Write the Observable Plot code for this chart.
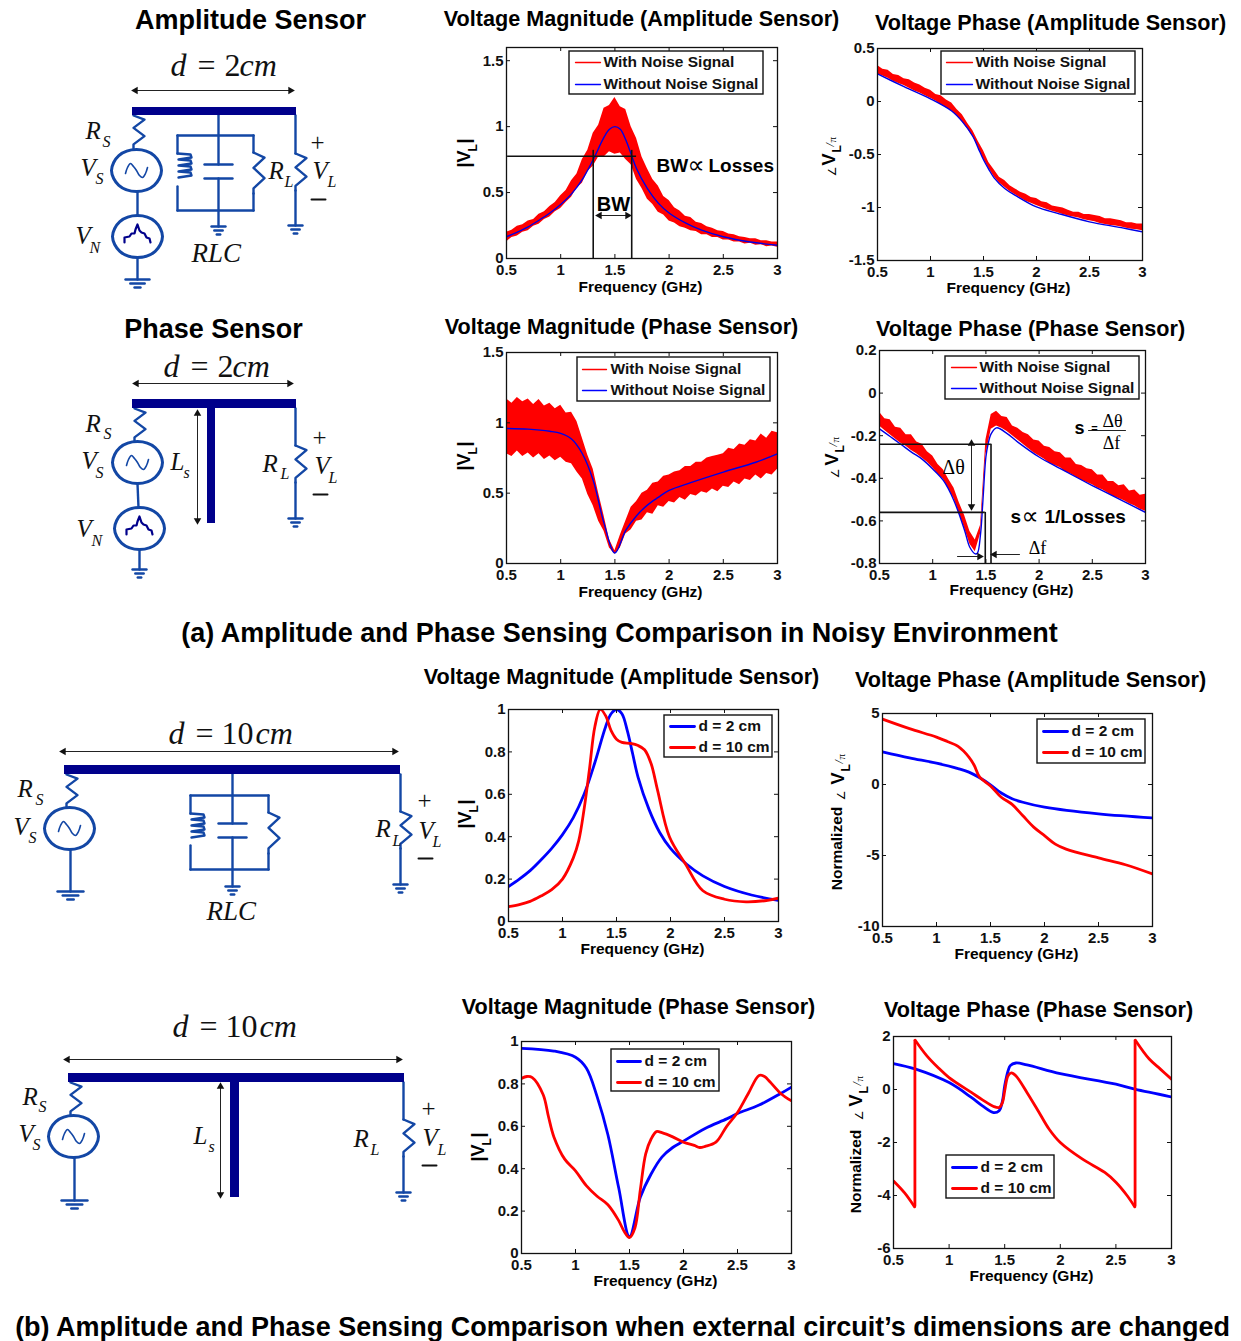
<!DOCTYPE html>
<html><head><meta charset="utf-8">
<script src="https://cdn.jsdelivr.net/npm/d3@7"></script>
<script src="https://cdn.jsdelivr.net/npm/@observablehq/plot@0.6"></script>
<style>html,body{margin:0;padding:0;background:#fff}#root{position:relative;width:1241px;height:1341px;overflow:hidden}#root svg{position:absolute;max-width:none}</style>
</head><body><div id="root"></div>
<script>
const noiseF=[.5,.55,.6,.65,.7,.75,.8,.85,.9,.95,1,1.05,1.1,1.15,1.2,1.25,1.3,1.35,1.4,1.45,1.5,1.55,1.6,1.65,1.7,1.75,1.8,1.85,1.9,1.95,2,2.05,2.1,2.15,2.2,2.25,2.3,2.35,2.4,2.45,2.5,2.55,2.6,2.65,2.7,2.75,2.8,2.85,2.9,2.95,3];
const ampMagHi=[.2,.215,.245,.255,.285,.295,.335,.355,.395,.425,.475,.515,.59,.64,.75,.82,.95,1.01,1.14,1.16,1.22,1.15,1.13,1.0,.91,.77,.68,.6,.55,.47,.44,.385,.36,.32,.31,.275,.265,.24,.23,.21,.205,.185,.18,.165,.16,.15,.15,.135,.135,.125,.125];
const ampMagLo=[.125,.16,.17,.2,.21,.245,.26,.295,.315,.355,.38,.425,.465,.535,.57,.66,.7,.77,.77,.81,.79,.8,.75,.71,.6,.53,.45,.41,.35,.33,.285,.27,.24,.23,.21,.205,.18,.18,.16,.16,.14,.14,.125,.125,.11,.115,.1,.105,.09,.095,.085];
const ampPhaHi=[.34,.305,.295,.255,.245,.215,.205,.175,.155,.125,.105,.065,.055,.015,-.015,-.075,-.125,-.205,-.275,-.375,-.465,-.575,-.645,-.715,-.745,-.795,-.825,-.855,-.875,-.905,-.915,-.945,-.955,-.985,-.995,-1.005,-1.025,-1.045,-1.045,-1.065,-1.065,-1.075,-1.085,-1.105,-1.105,-1.115,-1.125,-1.145,-1.145,-1.155,-1.155];
const ampPhaLo=[.26,.24,.22,.19,.17,.15,.125,.1,.08,.055,.03,.005,-.03,-.06,-.09,-.14,-.19,-.26,-.33,-.43,-.54,-.63,-.71,-.77,-.81,-.85,-.88,-.91,-.94,-.96,-.98,-1,-1.02,-1.035,-1.05,-1.065,-1.08,-1.09,-1.1,-1.115,-1.125,-1.135,-1.15,-1.16,-1.17,-1.175,-1.185,-1.195,-1.205,-1.21,-1.22];
const phaMagHi=[1.17,1.14,1.18,1.15,1.17,1.13,1.165,1.12,1.14,1.10,1.125,1.07,1.075,1.01,.89,.77,.67,.50,.34,.17,.09,.2,.3,.4,.44,.5,.52,.57,.58,.62,.63,.65,.66,.69,.69,.72,.72,.75,.76,.77,.78,.82,.81,.85,.84,.88,.87,.92,.89,.94,.93];
const phaMagLo=[.78,.76,.80,.76,.785,.75,.78,.74,.765,.73,.755,.72,.71,.65,.6,.49,.41,.30,.23,.11,.065,.11,.21,.24,.3,.31,.36,.35,.41,.40,.44,.43,.47,.45,.49,.48,.51,.5,.53,.51,.55,.54,.58,.56,.6,.59,.63,.6,.64,.63,.67];
const phaPhaHi=[-.09,-.12,-.125,-.16,-.165,-.195,-.195,-.23,-.24,-.275,-.295,-.335,-.36,-.405,-.445,-.515,-.575,-.65,-.69,-.62,-.22,-.1,-.085,-.11,-.115,-.155,-.165,-.185,-.195,-.22,-.225,-.25,-.255,-.275,-.28,-.305,-.305,-.335,-.34,-.355,-.36,-.385,-.385,-.415,-.415,-.435,-.43,-.46,-.455,-.48,-.475];
const phaPhaLo=[-.155,-.175,-.195,-.215,-.235,-.25,-.27,-.285,-.305,-.325,-.35,-.38,-.405,-.45,-.495,-.565,-.635,-.71,-.745,-.66,-.29,-.17,-.155,-.165,-.18,-.2,-.22,-.24,-.26,-.28,-.295,-.31,-.33,-.34,-.35,-.37,-.38,-.395,-.41,-.42,-.43,-.445,-.455,-.47,-.485,-.495,-.505,-.52,-.53,-.545,-.555];

const magAF=[.5,.6,.7,.8,.9,1,1.1,1.2,1.3,1.4,1.45,1.5,1.55,1.6,1.65,1.7,1.8,1.9,2,2.15,2.3,2.5,2.75,3];
const magA=[.165,.2,.24,.29,.345,.41,.49,.6,.75,.92,.98,1,.98,.9,.79,.68,.53,.42,.345,.27,.215,.165,.125,.1];
const ampPha2F=[.5,.75,1,1.2,1.3,1.4,1.45,1.5,1.55,1.6,1.7,1.8,2,2.2,2.5,2.8,3];
const ampPha2=[.26,.14,.025,-.09,-.19,-.33,-.44,-.55,-.64,-.72,-.82,-.885,-.995,-1.055,-1.135,-1.19,-1.23];
const phaMag2F=[.5,.7,.9,1,1.1,1.2,1.3,1.4,1.5,1.6,1.7,1.8,1.9,2,2.2,2.5,2.8,3];
const phaMag2=[.96,.955,.94,.925,.885,.78,.59,.285,.075,.235,.34,.415,.47,.52,.575,.65,.72,.78];
const phaPha2F=[.5,.6,.7,.8,.9,1,1.1,1.2,1.3,1.35,1.4,1.42,1.45,1.47,1.5,1.52,1.55,1.6,1.7,1.8,2,2.2,2.5,2.8,3];
const phaPha2=[-.168,-.204,-.24,-.277,-.31,-.356,-.41,-.505,-.645,-.725,-.755,-.752,-.66,-.52,-.3,-.24,-.19,-.163,-.19,-.23,-.3,-.355,-.434,-.51,-.56];

const p5RedF=[.5,.6,.7,.8,.9,1,1.1,1.15,1.2,1.25,1.3,1.35,1.4,1.45,1.5,1.55,1.63,1.7,1.76,1.82,1.88,1.99,2.14,2.3,2.5,2.7,2.9,3];
const p5Red=[.07,.08,.095,.12,.15,.2,.3,.38,.53,.72,.92,1,.97,.9,.86,.845,.84,.83,.81,.745,.62,.4,.27,.145,.105,.093,.1,.11];
const p6F=[.5,.75,1,1.2,1.3,1.4,1.5,1.6,1.7,1.8,2,2.5,3];
const p6Blue=[2.3,1.88,1.5,1.12,.87,.47,-.02,-.6,-1,-1.25,-1.6,-2.07,-2.35];
const p6RedF=[.5,.75,1,1.1,1.2,1.3,1.35,1.4,1.5,1.6,1.7,1.8,1.9,2,2.1,2.2,2.5,2.75,3];
const p6Red=[4.6,3.93,3.34,3.03,2.68,1.93,1.34,.52,-.1,-.9,-1.4,-2.2,-3,-3.6,-4.2,-4.55,-5.17,-5.65,-6.3];
const p7F=[.5,.8,1,1.1,1.2,1.3,1.4,1.5,1.6,1.7,1.8,1.9,2,2.2,2.4,2.5,2.7,2.9,3];
const p7Blue=[.968,.955,.926,.875,.74,.56,.31,.08,.265,.375,.455,.5,.53,.59,.635,.66,.7,.755,.785];
const p7RedF=[.5,.55,.6,.7,.75,.8,.9,1,1.1,1.2,1.3,1.4,1.45,1.5,1.55,1.6,1.65,1.7,1.75,1.8,1.9,2,2.1,2.15,2.2,2.3,2.4,2.5,2.6,2.7,2.75,2.8,2.9,3];
const p7Red=[.826,.835,.83,.75,.645,.55,.445,.39,.32,.27,.23,.155,.105,.075,.12,.3,.47,.54,.575,.57,.55,.525,.51,.5,.505,.525,.6,.665,.755,.84,.835,.81,.755,.72];
const p8F=[.5,.7,1,1.2,1.3,1.4,1.45,1.48,1.5,1.53,1.55,1.6,1.7,2,2.5,2.67,3];
const p8Blue=[.98,.77,.26,-.3,-.62,-.87,-.8,-.43,.14,.7,.9,1,.93,.6,.2,.01,-.28];
const p8RedF=[.5,.6,.69,.695,.8,.9,1,1.2,1.3,1.4,1.45,1.48,1.5,1.53,1.56,1.6,1.7,1.8,1.9,2,2.2,2.4,2.5,2.6,2.67,2.675,2.8,2.9,3];
const p8Red=[-3.45,-3.9,-4.43,1.86,1.27,.83,.45,-.11,-.39,-.64,-.68,-.49,-.05,.52,.63,.52,-.11,-.8,-1.5,-2,-2.63,-3.13,-3.5,-4,-4.43,1.86,1.15,.77,.39];
const p8Jumps=[.6925,2.6725];

const xTicks=[.5,1,1.5,2,2.5,3];
const legendNoise=["With Noise Signal","Without Noise Signal"];
const legendD=["d = 2 cm","d = 10 cm"];
const sans="Liberation Sans", serif="Liberation Serif";
const root=document.getElementById("root");
const tbl=(f,v)=>f.map((x,i)=>({f:x,v:v[i]}));
const band=(hi,lo)=>noiseF.map((x,i)=>({f:x,hi:hi[i],lo:lo[i]}));

function chart(fx0,fx1,fy0,fy1,yd,yt,marks){
  const ml=50,mr=20,mt=10,mb=30,w=fx1-fx0,h=fy1-fy0;
  const node=Plot.plot({width:w+ml+mr,height:h+mt+mb,marginLeft:ml,marginRight:mr,marginTop:mt,marginBottom:mb,
    style:{background:"transparent"},
    x:{domain:[.5,3]},y:{domain:yd},
    marks:[...marks,
      Plot.frame({stroke:"#111",strokeWidth:1.3}),
      Plot.axisX({anchor:"bottom",ticks:xTicks,tickSize:-4,tickPadding:9.5,tickFormat:String,label:null,fontSize:15,fontWeight:"bold",fontFamily:sans,fill:"#111",stroke:"#111"}),
      Plot.ruleX(xTicks,{y1:yd[1],y2:yd[1]-(yd[1]-yd[0])*4/h,stroke:"#111"}),
      Plot.axisY({anchor:"left",ticks:yt,tickSize:-4,tickPadding:7,tickFormat:String,label:null,fontSize:15,fontWeight:"bold",fontFamily:sans,fill:"#111",stroke:"#111"}),
      Plot.ruleY(yt,{x1:3,x2:3-2.5*4/w,stroke:"#111"})
    ]});
  node.style.left=(fx0-ml)+"px";node.style.top=(fy0-mt)+"px";
  root.appendChild(node);
}
const noisy=(hi,lo,f,v)=>[
  Plot.areaY(band(hi,lo),{x:"f",y1:"lo",y2:"hi",fill:"#ff0000",clip:true}),
  Plot.line(tbl(f,v),{x:"f",y:"v",stroke:"#0000e6",strokeWidth:1.4,curve:"catmull-rom",clip:true})];
const clean=(f1,v1,f2,v2,z)=>[
  Plot.line(tbl(f1,v1),{x:"f",y:"v",stroke:"#0000ff",strokeWidth:2.8,curve:"catmull-rom",clip:true}),
  Plot.line(tbl(f2,v2),{x:"f",y:"v",z,stroke:"#ff0000",strokeWidth:2.8,curve:"catmull-rom",clip:true})];
const bk="#111";
chart(506,777,47,258,[0,1.6],[0,.5,1,1.5],[...noisy(ampMagHi,ampMagLo,magAF,magA),
  Plot.ruleY([.775],{x1:.51,x2:1.7,stroke:bk,strokeWidth:1.6}),
  Plot.ruleX([1.3,1.655],{y1:0,y2:.82,stroke:bk,strokeWidth:1.6})]);
chart(877,1142,48,260,[-1.5,.5],[-1.5,-1,-.5,0,.5],noisy(ampPhaHi,ampPhaLo,ampPha2F,ampPha2));
chart(506,777,352,563,[0,1.5],[0,.5,1,1.5],noisy(phaMagHi,phaMagLo,phaMag2F,phaMag2));
chart(879,1145,350,563,[-.8,.2],[-.8,-.6,-.4,-.2,0,.2],[...noisy(phaPhaHi,phaPhaLo,phaPha2F,phaPha2),
  Plot.ruleY([-.24],{x1:.5,x2:1.55,stroke:bk,strokeWidth:1.6}),
  Plot.ruleY([-.56],{x1:.5,x2:1.494,stroke:bk,strokeWidth:1.6}),
  Plot.ruleX([1.494],{y1:-.8,y2:-.56,stroke:bk,strokeWidth:1.6}),
  Plot.ruleX([1.548],{y1:-.8,y2:-.24,stroke:bk,strokeWidth:1.6})]);
chart(508,778,709,921,[0,1],[0,.2,.4,.6,.8,1],clean(magAF,magA,p5RedF,p5Red));
chart(882,1152,713,926,[-10,5],[-10,-5,0,5],clean(p6F,p6Blue,p6RedF,p6Red));
chart(521,791,1041,1253,[0,1],[0,.2,.4,.6,.8,1],clean(p7F,p7Blue,p7RedF,p7Red));
chart(893,1171,1036,1248,[-6,2],[-6,-4,-2,0,2],[...clean(p8F,p8Blue,p8RedF,p8Red,d=>d.f<p8Jumps[0]?0:d.f<p8Jumps[1]?1:2),
  Plot.ruleX(p8Jumps,{y1:-4.43,y2:1.86,stroke:"#ff0000",strokeWidth:2.8})]);

/* ---------- overlay: titles, legends, circuit schematics ---------- */
const W="#1347a5", NAVY="#00008b";
let wires=[],wireId=0,smooth=[],loops=[],noiseG=[],bars=[],thin=[],heads=[],ov=[],thin2=[];
const wire=(...p)=>{const id=wireId++;p.forEach(q=>wires.push({id,x:q[0],y:q[1]}))};
const zig=(x,y0,y1,a)=>{const s=(y1-y0)/8;wire([x,y0],[x+a,y0+s],[x,y0+3*s],[x+a,y0+5*s],[x,y0+7*s],[x,y1])};
const ell=(cx,cy)=>{const id=wireId++;[[1,0],[.707,.707],[0,1],[-.707,.707],[-1,0],[-.707,-.707],[0,-1],[.707,-.707]].forEach(k=>loops.push({id,x:cx+25*k[0],y:cy+21*k[1]}))};
const sine=(cx,cy)=>{const id=wireId++;[[-11,3],[-9,-3],[-6,-7],[-3,-4],[0,0],[3,5],[6,7],[9,3],[11,-3]].forEach(k=>smooth.push({id,x:cx+k[0],y:cy+k[1]}))};
const noiseWave=(cx,cy)=>{const id=wireId++;[[-13,6],[-13,1],[-8,0],[-6,-3],[-3,-3],[-2,-7],[0,-12],[2,-6],[4,-4],[7,-3],[9,1],[12,2],[13,6]].forEach(k=>noiseG.push({id,x:cx+k[0],y:cy+k[1]}))};
const gnd=(x,y,w)=>{wire([x-w,y],[x+w,y]);wire([x-w*.6,y+4],[x+w*.6,y+4]);wire([x-w*.25,y+8],[x+w*.25,y+8])};
const coil=(x,y)=>{const id=wireId++;let p=[[x,y]];for(let i=0;i<4;i++)p.push([x+13,y+1+i*6],[x+14,y+4+i*6],[x+1,y+6+i*6]);p.forEach(q=>wires.push({id,x:q[0],y:q[1]}))};
const arrowH=(x0,x1,y)=>{thin.push({id:wireId,x:x0,y},{id:wireId++,x:x1,y});heads.push({x:x0+3,y,r:-90},{x:x1-3,y,r:90})};
const arrowV=(x,y0,y1)=>{thin.push({id:wireId,x,y:y0},{id:wireId++,x,y:y1});heads.push({x,y:y0+3,r:0},{x,y:y1-3,r:180})};
const T=(x,y,text,size,o={})=>ov.push(Plot.text([text],{text:d=>d,x:()=>x,y:()=>y,fontSize:size,fontFamily:o.family||sans,fontWeight:o.weight||"bold",fontStyle:o.style||"normal",textAnchor:o.anchor||"middle",lineAnchor:"middle",fill:o.fill||"#000",rotate:o.rotate||0}));
const I=(x,y,t,size=25)=>T(x,y,t,size,{family:serif,weight:"normal",style:"italic",anchor:"start",fill:"#111"});
const R=(x,y,t,size=25)=>T(x,y,t,size,{family:serif,weight:"normal",anchor:"start",fill:"#111"});
const sub=(x,y,m,xs,ys,s,size=25)=>{I(x,y,m,size);I(xs,ys,s,16)};
const dim=(x0,y,n,dx)=>{I(x0,y,"d",32);R(x0+dx[0],y,"=",32);R(x0+dx[1],y,n,32);I(x0+dx[2],y,"cm",32)};
const plusMinus=(x,yp,ym)=>{R(x-8,yp,"+",25);thin2.push({id:wireId,x:x-7,y:ym},{id:wireId++,x:x+7,y:ym})};
const rlc=(cx,x0,x1,yBar,yT,yB,yCap,yG)=>{
  wire([cx,yBar],[cx,yCap]);wire([cx,yCap+14],[cx,yG]);
  wire([cx-14,yCap],[cx+14,yCap]);wire([cx-14,yCap+14],[cx+14,yCap+14]);
  wire([x0,yT],[x1,yT]);wire([x0,yB],[x1,yB]);
  wire([x0,yT],[x0,yT+18]);wire([x0,yB-24],[x0,yB]);coil(x0,yT+18);
  wire([x1,yT],[x1,yT+17]);zig(x1,yT+17,yT+58,11);wire([x1,yT+58],[x1,yB]);
  gnd(cx,yG,7);
};
// schematic 1
bars.push({x1:132,x2:296,y1:107,y2:115});
arrowH(132,293,90);
zig(133,115,148,11);ell(136,170);sine(136,170);wire([137,191],[137,215]);ell(137,236);noiseWave(137,236);wire([137,257],[137,279]);gnd(137,279,12);
rlc(218,177,253,115,135,210,164,226);
wire([295,115],[295,153]);zig(295,153,190,11);wire([295,190],[295,225]);gnd(295,225,7);
T(250,20,"Amplitude Sensor",27);
dim(170,65,"2",[27,54,69]);
sub(85,130,"R",102,141,"S");sub(80,167,"V",95,178,"S");sub(75,235,"V",89,247,"N");sub(268,170,"R",284,181,"L");sub(312,170,"V",327,181,"L");
plusMinus(318,142,199);I(191,253,"RLC",27);
// schematic 2
bars.push({x1:132,x2:296,y1:399,y2:408},{x1:207,x2:215,y1:408,y2:523});
arrowH(133,292,383);arrowV(197,410,523);
zig(134,408,441,11);ell(137,462);sine(137,462);wire([137,483],[138,507]);ell(139,528);noiseWave(139,528);wire([139,549],[139,569]);gnd(139,569,7);
wire([295,408],[295,445]);zig(295,445,482,11);wire([295,482],[295,518]);gnd(295,518,7);
T(213,329,"Phase Sensor",27);
dim(163,366,"2",[27,54,69]);
sub(85,423,"R",103,433,"S");sub(81,460,"V",95,472,"S");sub(170,461,"L",183,472,"s");sub(76,528,"V",91,540,"N");sub(262,463,"R",280,473,"L");sub(314,465,"V",328,477,"L");
plusMinus(320,437,494);
// schematic 3
bars.push({x1:64,x2:400,y1:765,y2:774});
arrowH(60,397,751);
zig(66,774,807,11);ell(69,828);sine(69,828);wire([70,849],[70,891]);gnd(70,891,13);
rlc(232,190,268,774,795,869,823,886);
wire([400,774],[400,811]);zig(400,811,848,11);wire([400,848],[400,884]);gnd(400,884,7);
dim(168,733,"10",[27,53,87]);
sub(17,788,"R",35,799,"S");sub(13,826,"V",28,837,"S");sub(375,828,"R",392,840,"L");sub(418,830,"V",432,841,"L");
plusMinus(425,800,858);I(206,911,"RLC",27);
// schematic 4
bars.push({x1:68,x2:404,y1:1073,y2:1082},{x1:230,x2:239,y1:1082,y2:1197});
arrowH(64,401,1059);arrowV(220,1083,1197);
zig(70,1082,1115,11);ell(73,1136);sine(73,1136);wire([74,1157],[74,1200]);gnd(74,1200,13);
wire([403,1082],[403,1119]);zig(403,1119,1156,11);wire([403,1156],[403,1192]);gnd(403,1192,7);
dim(172,1026,"10",[27,53,87]);
sub(22,1096,"R",38,1106,"S");sub(18,1133,"V",32,1144,"S");sub(193,1135,"L",208,1146,"s");sub(353,1138,"R",370,1149,"L");sub(422,1137,"V",437,1149,"L");
plusMinus(429,1108,1165);

// titles
const TS=21.6;
T(641,19,"Voltage Magnitude (Amplitude Sensor)",TS);
T(1050,23,"Voltage Phase (Amplitude Sensor)",TS);
T(621,327,"Voltage Magnitude (Phase Sensor)",TS);
T(1030,329,"Voltage Phase (Phase Sensor)",TS);
T(621,677,"Voltage Magnitude (Amplitude Sensor)",TS);
T(1030,680,"Voltage Phase (Amplitude Sensor)",TS);
T(638,1007,"Voltage Magnitude (Phase Sensor)",TS);
T(1038,1010,"Voltage Phase (Phase Sensor)",TS);
T(619,633,"(a) Amplitude and Phase Sensing Comparison in Noisy Environment",27);
T(622,1327,"(b) Amplitude and Phase Sensing Comparison when external circuit\u2019s dimensions are changed",27);
// frequency labels
[[640,287],[1008,288],[640,592],[1011,590],[642,949],[1016,954],[655,1281],[1031,1276]].forEach(p=>T(p[0],p[1],"Frequency (GHz)",15.5));
// y labels
const rot={rotate:-90,anchor:"start"};
const vl=(x,yb)=>{T(x,yb,"|V",18,rot);T(x+9,yb-16,"L",12,rot);T(x,yb-24,"|",18,rot)};
vl(464,167);vl(464,470);vl(465,828);vl(478,1161);
const ang=(x,yA,yV,yP)=>{T(x+3,yA,"\u2220",11,{...rot,family:"DejaVu Sans",weight:"normal"});T(x,yV,"V",18,rot);T(x+8,yV-13,"L",12,rot);T(x+1,yP,"/",12,{...rot,family:serif,weight:"normal",style:"italic"});T(x+3,yP-4,"\u03c0",11,{...rot,family:serif,weight:"normal"})};
ang(829,176,165,146);ang(832,478,465,446);
T(837,848,"Normalized",15.5,{rotate:-90});ang(838,800,784,763);
T(856,1171,"Normalized",15.5,{rotate:-90});ang(856,1120,1106,1085);
// annotations
T(613,204,"BW",20);T(656,165,"BW",19,{anchor:"start"});T(687,165,"\u221d",24,{anchor:"start",family:"DejaVu Sans",weight:"normal"});T(708,165,"Losses",19,{anchor:"start"});
arrowH(596,630,215);
T(953,467,"\u0394\u03b8",20,{family:serif,weight:"normal"});
T(1079,428,"s",18);T(1094,428,"=",11);T(1112,421,"\u0394\u03b8",18,{family:serif,weight:"normal"});T(1111,443,"\u0394f",18,{family:serif,weight:"normal"});
T(1010,516,"s",19,{anchor:"start"});T(1021,516,"\u221d",24,{anchor:"start",family:"DejaVu Sans",weight:"normal"});T(1044,516,"1/Losses",19,{anchor:"start"});
T(1037,548,"\u0394f",18,{family:serif,weight:"normal"});
thin.push({id:wireId,x:1088,y:430},{id:wireId++,x:1125,y:430});
arrowV(971,440,509);
thin.push({id:wireId,x:957,y:556},{id:wireId++,x:977,y:556});heads.push({x:979,y:556,r:90});
thin.push({id:wireId,x:1019,y:554},{id:wireId++,x:996,y:554});heads.push({x:994,y:554,r:-90});

// legends
const legends=[
 {b:[569,763,51,94],l:[575,600],t:603,y:[62,84],n:legendNoise,w:1.3},
 {b:[941,1135,51,94],l:[946,972],t:975,y:[62,84],n:legendNoise,w:1.3},
 {b:[577,770,357,401],l:[582,606],t:610,y:[369,390],n:legendNoise,w:1.3},
 {b:[945,1139,356,399],l:[951,976],t:979,y:[367,388],n:legendNoise,w:1.3},
 {b:[664,772,715,757],l:[670,694],t:698,y:[726,747],n:legendD,w:2.8},
 {b:[1037,1145,719,763],l:[1043,1067],t:1071,y:[731,752],n:legendD,w:2.8},
 {b:[611,719,1049,1091],l:[617,640],t:644,y:[1061,1082],n:legendD,w:2.8},
 {b:[946,1054,1155,1198],l:[952,976],t:980,y:[1167,1188],n:legendD,w:2.8}];
const legendMarks=[];
legends.forEach(L=>{
  const isN=L.n===legendNoise;
  legendMarks.push(Plot.rect([L.b],{x1:d=>d[0],x2:d=>d[1],y1:d=>d[2],y2:d=>d[3],fill:"#fff",stroke:"#111",strokeWidth:1.4}));
  L.n.forEach((t,i)=>{
    const c=(isN?i===0:i===1)?"#ff0000":"#0000ff";
    legendMarks.push(Plot.line([[L.l[0],L.y[i]],[L.l[1],L.y[i]]],{x:d=>d[0],y:d=>d[1],stroke:c,strokeWidth:L.w}));
    legendMarks.push(Plot.text([t],{text:d=>d,x:()=>L.t,y:()=>L.y[i],textAnchor:"start",lineAnchor:"middle",fontFamily:sans,fontWeight:"bold",fontSize:15.5,fill:"#111"}));
  });
});

const over=Plot.plot({width:1241,height:1341,margin:0,axis:null,style:{background:"transparent"},
  x:{type:"identity"},y:{type:"identity"},
  marks:[
    Plot.line(wires,{x:"x",y:"y",z:"id",stroke:W,strokeWidth:2.4}),
    Plot.line(loops,{x:"x",y:"y",z:"id",stroke:W,strokeWidth:3,curve:"catmull-rom-closed"}),
    Plot.line(smooth,{x:"x",y:"y",z:"id",stroke:W,strokeWidth:1.6,curve:"catmull-rom"}),
    Plot.line(noiseG,{x:"x",y:"y",z:"id",stroke:NAVY,strokeWidth:2.2}),
    Plot.rect(bars,{x1:"x1",x2:"x2",y1:"y1",y2:"y2",fill:NAVY}),
    Plot.line(thin,{x:"x",y:"y",z:"id",stroke:"#222",strokeWidth:1}),
    Plot.line(thin2,{x:"x",y:"y",z:"id",stroke:"#111",strokeWidth:2}),
    Plot.dot(heads,{x:"x",y:"y",rotate:"r",symbol:"triangle",r:2.8,fill:"#111",stroke:"none"}),
    ...legendMarks,
    ...ov
  ]});
over.style.left="0";over.style.top="0";
root.appendChild(over);
</script></body></html>
